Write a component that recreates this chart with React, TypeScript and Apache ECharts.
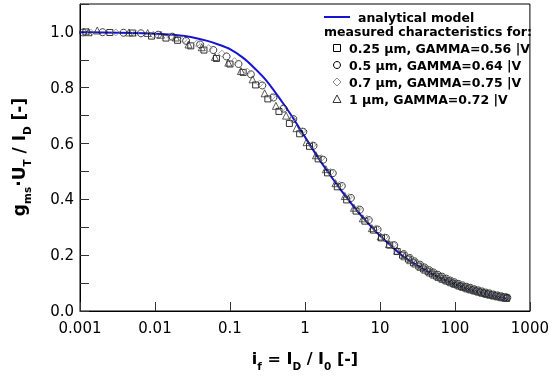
import React, { useEffect, useRef } from "react";
import * as echarts from "echarts";

// Analytical model
const modelX = [0.001, 0.002, 0.005, 0.01, 0.02, 0.03, 0.05, 0.07, 0.1, 0.15, 0.2, 0.3, 0.5, 0.7, 1, 1.5, 2, 3, 5, 7, 10, 15, 20, 30, 50, 70, 100, 150, 200, 300, 500];
const modelY = [0.999, 0.998, 0.996, 0.993, 0.988, 0.982, 0.968, 0.955, 0.938, 0.907, 0.877, 0.828, 0.748, 0.690, 0.624, 0.549, 0.500, 0.434, 0.358, 0.313, 0.270, 0.227, 0.198, 0.167, 0.132, 0.113, 0.095, 0.078, 0.068, 0.056, 0.044];

// 0.25 um (squares)
const sqX = [0.0012, 0.0025, 0.005, 0.009, 0.014, 0.02, 0.03, 0.045, 0.066, 0.1, 0.15, 0.22, 0.32, 0.45, 0.62, 0.85, 1.15, 1.5, 2.0, 2.7, 3.6, 4.8, 6.3, 8.2, 10.5, 13.5, 17, 20, 24, 28, 33, 38, 44, 50, 57, 65, 74, 84, 95, 108, 122, 138, 155, 175, 197, 222, 250, 280, 315, 355, 400, 450, 490];
const sqY = [1.0, 0.998, 0.996, 0.985, 0.978, 0.97, 0.95, 0.935, 0.905, 0.885, 0.855, 0.81, 0.76, 0.715, 0.672, 0.635, 0.59, 0.545, 0.495, 0.445, 0.398, 0.358, 0.322, 0.29, 0.262, 0.236, 0.213, 0.2, 0.186, 0.173, 0.161, 0.151, 0.141, 0.133, 0.125, 0.118, 0.111, 0.105, 0.099, 0.093, 0.088, 0.083, 0.079, 0.075, 0.071, 0.067, 0.063, 0.06, 0.057, 0.054, 0.051, 0.048, 0.046];

// 0.5 um (circles)
const ciX = [0.0011, 0.002, 0.0038, 0.0065, 0.011, 0.017, 0.026, 0.04, 0.06, 0.09, 0.13, 0.19, 0.27, 0.38, 0.52, 0.7, 0.95, 1.3, 1.75, 2.35, 3.1, 4.1, 5.4, 7.1, 9.3, 12, 15.5, 20.8, 25, 29, 34.3, 39.5, 45.8, 52, 59.3, 67.6, 77, 87.4, 98.8, 112, 127, 143.5, 161, 182, 205, 231, 260, 291, 328, 369, 416, 468, 500];
const ciY = [0.998, 0.999, 0.997, 0.995, 0.99, 0.983, 0.968, 0.955, 0.935, 0.912, 0.885, 0.848, 0.808, 0.765, 0.725, 0.688, 0.642, 0.592, 0.542, 0.494, 0.448, 0.405, 0.363, 0.326, 0.292, 0.262, 0.236, 0.204, 0.19, 0.178, 0.166, 0.156, 0.146, 0.138, 0.13, 0.123, 0.116, 0.109, 0.103, 0.097, 0.092, 0.087, 0.083, 0.078, 0.074, 0.07, 0.066, 0.063, 0.059, 0.056, 0.053, 0.05, 0.048];

// 0.7 um (diamonds)
const diX = [0.0014, 0.003, 0.0055, 0.0095, 0.016, 0.024, 0.036, 0.052, 0.078, 0.115, 0.17, 0.25, 0.36, 0.5, 0.68, 0.92, 1.25, 1.65, 2.2, 2.9, 3.85, 5.1, 6.7, 8.8, 11.5, 15, 20.4, 24.5, 28.6, 33.7, 38.8, 44.9, 51, 58.1, 66.3, 75.5, 85.7, 96.9, 110, 124, 141, 158, 178.5, 201, 226, 255, 286, 321, 362, 408, 459];
const diY = [0.997, 0.998, 0.995, 0.99, 0.982, 0.972, 0.958, 0.942, 0.922, 0.895, 0.858, 0.815, 0.768, 0.728, 0.688, 0.645, 0.595, 0.548, 0.498, 0.452, 0.408, 0.366, 0.33, 0.296, 0.265, 0.238, 0.201, 0.187, 0.175, 0.163, 0.153, 0.143, 0.135, 0.127, 0.12, 0.113, 0.107, 0.101, 0.095, 0.09, 0.085, 0.081, 0.076, 0.072, 0.068, 0.065, 0.061, 0.058, 0.055, 0.052, 0.049];

// 1 um (triangles)
const trX = [0.0013, 0.0017, 0.0045, 0.008, 0.012, 0.019, 0.028, 0.042, 0.063, 0.095, 0.14, 0.2, 0.29, 0.41, 0.56, 0.77, 1.05, 1.4, 1.9, 2.55, 3.4, 4.5, 5.9, 7.8, 10.2, 13.2, 17, 21.2, 25.4, 29.7, 35, 40.3, 46.6, 53, 60.4, 68.9, 78.4, 89, 100.7, 114.5, 129, 146, 164, 185.5, 209, 235, 265, 297, 334, 376, 424, 477];
const trY = [0.999, 1.005, 0.998, 0.996, 0.99, 0.98, 0.955, 0.945, 0.91, 0.89, 0.86, 0.83, 0.78, 0.735, 0.7, 0.655, 0.605, 0.558, 0.508, 0.458, 0.412, 0.37, 0.332, 0.297, 0.267, 0.24, 0.216, 0.196, 0.182, 0.17, 0.158, 0.148, 0.138, 0.13, 0.122, 0.115, 0.109, 0.103, 0.097, 0.091, 0.086, 0.081, 0.077, 0.073, 0.069, 0.065, 0.061, 0.058, 0.055, 0.052, 0.049, 0.047];

const xTickLabels = ["0.001", "0.01", "0.1", "1", "10", "100", "1000"];
const yTickLabels = ["0.0", "0.2", "0.4", "0.6", "0.8", "1.0"];
const legendNames = [
  "analytical model",
  "measured characteristics for:",
  "0.25 µm, GAMMA=0.56 |V",
  "0.5 µm, GAMMA=0.64 |V",
  "0.7 µm, GAMMA=0.75 |V",
  "1 µm, GAMMA=0.72 |V",
];

const zip = (xs: number[], ys: number[]) => xs.map((x, i) => [x, ys[i]]);

const BLUE = "#1414d2";
const FONT = "DejaVu Sans";

export default function App() {
  const ref = useRef<HTMLDivElement>(null);
  useEffect(() => {
    const chart = echarts.init(ref.current!, null, { renderer: "svg" });
    const sub = { fontSize: 10.5, fontWeight: "bold", fontFamily: FONT, verticalAlign: "bottom", lineHeight: 10, padding: [0, 0, -3, 0] };
    const legText = (y: number, x: number, t: string) => ({
      type: "text", x, y,
      style: { text: t, fontSize: 12.5, fontWeight: "bold", fontFamily: FONT, fill: "#000", verticalAlign: "middle", align: "left" },
    });
    const mk = 3.5;
    const lx = 337;
    const rows = [17, 31, 48, 65, 82, 99];
    chart.setOption({
      animation: false,
      grid: { left: 80, right: 21, top: 4, bottom: 72, show: true, borderColor: "#000", borderWidth: 1 },
      xAxis: {
        type: "log", logBase: 10, min: 0.001, max: 1000,
        axisLine: { lineStyle: { color: "#000", width: 1 } },
        axisTick: { inside: true, length: 9, lineStyle: { color: "#333" } },
        splitLine: { show: false },
        minorTick: { show: false },
        axisLabel: {
          margin: 9, fontSize: 15, fontFamily: FONT, color: "#000",
          formatter: (v: number) => {
            const i = Math.round(Math.log10(v)) + 3;
            return xTickLabels[i] ?? "";
          },
        },
      },
      yAxis: {
        type: "value", min: 0, max: 1.1, interval: 0.1,
        axisLine: { show: true, lineStyle: { color: "#000", width: 1 } },
        axisTick: { inside: true, length: 9, lineStyle: { color: "#333" } },
        splitLine: { show: false },
        axisLabel: {
          margin: 6, fontSize: 15, fontFamily: FONT, color: "#000",
          formatter: (v: number) => {
            const k = Math.round(v * 10);
            if (k % 2 !== 0 || k > 10) return "";
            return yTickLabels[k / 2];
          },
        },
      },
      graphic: [
        {
          type: "text", x: 19, y: 157, rotation: Math.PI / 2,
          style: {
            text: "g{s|ms}·U{s|T} / I{s|D} [-]", align: "center", verticalAlign: "middle",
            fill: "#000", fontSize: 17, fontWeight: "bold", fontFamily: FONT, lineHeight: 20, rich: { s: sub },
          },
        },
        {
          type: "text", x: 305, y: 358,
          style: {
            text: "i{s|f} = I{s|D} / I{s|0} [-]", align: "center", verticalAlign: "middle",
            fill: "#000", fontSize: 16, fontWeight: "bold", fontFamily: FONT, lineHeight: 20, rich: { s: sub },
          },
        },
        { type: "line", shape: { x1: 324, y1: rows[0], x2: 350, y2: rows[0] }, style: { stroke: BLUE, lineWidth: 2 } },
        legText(rows[0], 358, legendNames[0]),
        legText(rows[1], 324, legendNames[1]),
        { type: "rect", shape: { x: lx - mk, y: rows[2] - mk, width: 2 * mk, height: 2 * mk }, style: { fill: "none", stroke: "#000", lineWidth: 1 } },
        legText(rows[2], 349, legendNames[2]),
        { type: "circle", shape: { cx: lx, cy: rows[3], r: mk }, style: { fill: "none", stroke: "#000", lineWidth: 1 } },
        legText(rows[3], 349, legendNames[3]),
        { type: "polygon", shape: { points: [[lx, rows[4] - 4], [lx + 4, rows[4]], [lx, rows[4] + 4], [lx - 4, rows[4]]] }, style: { fill: "none", stroke: "#888", lineWidth: 1 } },
        legText(rows[4], 349, legendNames[4]),
        { type: "polygon", shape: { points: [[lx, rows[5] - 4], [lx + 4, rows[5] + 3.5], [lx - 4, rows[5] + 3.5]] }, style: { fill: "none", stroke: "#333", lineWidth: 1 } },
        legText(rows[5], 349, legendNames[5]),
      ],
      series: [
        {
          name: legendNames[0], type: "line", data: zip(modelX, modelY), showSymbol: false, smooth: 0.3,
          lineStyle: { color: BLUE, width: 2 }, z: 1,
        },
        {
          name: legendNames[2], type: "scatter", data: zip(sqX, sqY), symbol: "rect", symbolSize: 6,
          itemStyle: { color: "transparent", borderColor: "#000", borderWidth: 1 }, z: 3,
        },
        {
          name: legendNames[3], type: "scatter", data: zip(ciX, ciY), symbol: "circle", symbolSize: 7,
          itemStyle: { color: "transparent", borderColor: "#111", borderWidth: 1 }, z: 3,
        },
        {
          name: legendNames[4], type: "scatter", data: zip(diX, diY), symbol: "diamond", symbolSize: 7,
          itemStyle: { color: "transparent", borderColor: "#888", borderWidth: 1 }, z: 3,
        },
        {
          name: legendNames[5], type: "scatter", data: zip(trX, trY), symbol: "triangle", symbolSize: 7,
          itemStyle: { color: "transparent", borderColor: "#333", borderWidth: 1 }, z: 3,
        },
      ],
    });
    return () => chart.dispose();
  }, []);
  return <div ref={ref} style={{ position: "fixed", left: 0, top: 0, width: 552, height: 383 }} />;
}
